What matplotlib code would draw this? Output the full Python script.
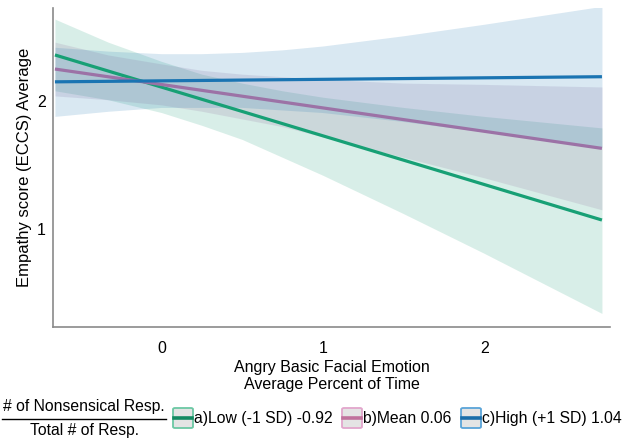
import matplotlib
matplotlib.use("Agg")
import matplotlib.pyplot as plt
from matplotlib.patches import FancyBboxPatch
from matplotlib.lines import Line2D

plt.rcParams['font.family'] = ['Liberation Sans', 'DejaVu Sans']

# fitted (straight) lines: values at both ends of the x range
line_x = [-0.66, 2.73]
low_fit = [2.36, 1.07]
mean_fit = [2.25, 1.63]
high_fit = [2.15, 2.19]

band_x = [-0.66, -0.33, 0, 0.25, 0.5, 0.75, 1, 1.5, 2, 2.73]
low_lo = [2.08, 2.01, 1.91, 1.81, 1.70, 1.56, 1.42, 1.12, 0.81, 0.34]
low_hi = [2.64, 2.46, 2.31, 2.21, 2.14, 2.08, 2.03, 1.95, 1.88, 1.79]
mean_lo = [2.04, 2.01, 1.97, 1.92, 1.86, 1.80, 1.72, 1.56, 1.40, 1.15]
mean_hi = [2.46, 2.36, 2.29, 2.24, 2.21, 2.19, 2.17, 2.14, 2.13, 2.11]
high_lo = [1.88, 1.92, 1.95, 1.95, 1.95, 1.93, 1.91, 1.84, 1.76, 1.64]
high_hi = [2.42, 2.39, 2.37, 2.37, 2.38, 2.40, 2.43, 2.51, 2.60, 2.74]

labels = ["a)Low (-1 SD) -0.92", "b)Mean 0.06", "c)High (+1 SD) 1.04"]
line_colors = ["#17a075", "#9c72a6", "#1a74b2"]
fill_colors = ["#1b9e77", "#8e6a9a", "#1f78b4"]
legend_line_colors = ["#138a62", "#c0729c", "#1a6eaa"]
legend_edge_colors = ["#6cc8a4", "#e2a6cc", "#5aa4d8"]

x_ticks = [0, 1, 2]
y_ticks = [1, 2]

fig = plt.figure(figsize=(6.35, 4.41), dpi=100)
ax = fig.add_axes([53/635, 1-327/441, (610-53)/635, (327-8)/441])

bands = [(low_lo, low_hi), (mean_lo, mean_hi), (high_lo, high_hi)]
fits = [low_fit, mean_fit, high_fit]
for (lo, hi), fc in zip(bands, fill_colors):
    ax.fill_between(band_x, lo, hi, color=fc, alpha=0.17, linewidth=0, zorder=1)
for fit, lc in zip(fits, line_colors):
    ax.plot(line_x, fit, color=lc, linewidth=2.3, zorder=3, solid_capstyle='butt')

ax.set_xlim(-0.672, 2.78)
ax.set_ylim(0.234, 2.727)
ax.set_xticks(x_ticks)
ax.set_yticks(y_ticks)
ax.tick_params(length=0, labelsize=11.5)
ax.tick_params(axis='x', pad=10)
ax.tick_params(axis='y', pad=5)
for s in ['top', 'right']:
    ax.spines[s].set_visible(False)
for s in ['left', 'bottom']:
    ax.spines[s].set_color('#8a8a8a')
    ax.spines[s].set_linewidth(1.2)

ax.set_xlabel("Angry Basic Facial Emotion\nAverage Percent of Time", fontsize=11.5,
              linespacing=1.15, labelpad=3)
ax.set_ylabel("Empathy score (ECCS) Average", fontsize=12, labelpad=4)

# legend row at bottom
W, H = 635, 441
yc = 1 - 418/H
fig.text(84/W, 1 - 406/H, "# of Nonsensical Resp.", ha='center', va='center', fontsize=11.3)
fig.add_artist(Line2D([2/W, 166/W], [1-418.5/H, 1-418.5/H], color='black', linewidth=1.0))
fig.text(84/W, 1 - 431/H, "Total # of Resp.", ha='center', va='center', fontsize=11.3)

box_x = [173, 342, 461]
for bx, lab, lc, ec in zip(box_x, labels, legend_line_colors, legend_edge_colors):
    r = FancyBboxPatch((bx/W, 1-428/H), 20/W, 20/H, boxstyle="round,pad=0,rounding_size=0.003",
                       transform=fig.transFigure, facecolor='#e4e4e4', edgecolor=ec, linewidth=1.3)
    fig.add_artist(r)
    fig.add_artist(Line2D([(bx+1)/W, (bx+19)/W], [yc, yc], color=lc, linewidth=2.6))
    fig.text((bx+21)/W, yc, lab, ha='left', va='center', fontsize=11.3)

fig.savefig("out.png", dpi=100)
